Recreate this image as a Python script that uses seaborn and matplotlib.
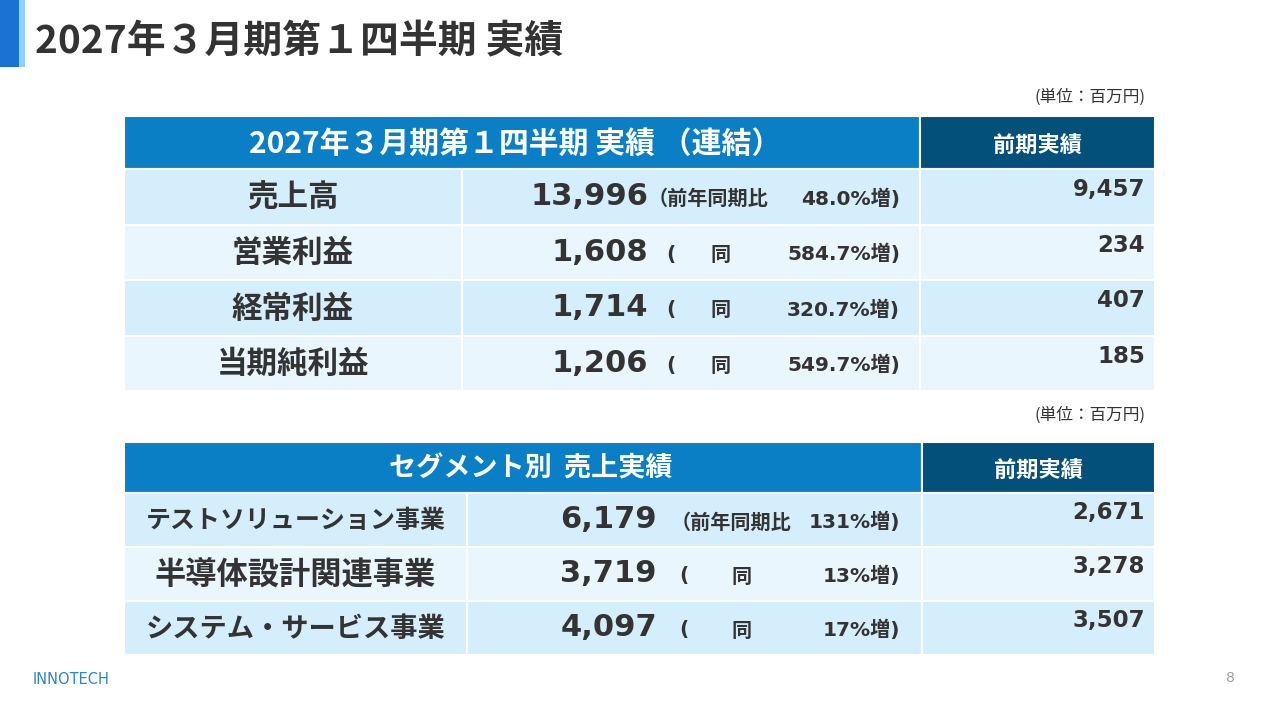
import matplotlib
matplotlib.use("Agg")
import matplotlib.pyplot as plt
import seaborn as sns

# ---------------- data ----------------
title = "2027年３月期第１四半期 実績"
unit_label = "(単位：百万円)"
prev_header = "前期実績"

pl_header = "2027年３月期第１四半期 実績 （連結）"
pl_items = ["売上高", "営業利益", "経常利益", "当期純利益"]
pl_values = [13996, 1608, 1714, 1206]
pl_growth = [48.0, 584.7, 320.7, 549.7]
pl_prev = [9457, 234, 407, 185]

seg_header = "セグメント別  売上実績"
seg_items = ["テストソリューション事業", "半導体設計関連事業", "システム・サービス事業"]
seg_values = [6179, 3719, 4097]
seg_growth = [131, 13, 17]
seg_prev = [2671, 3278, 3507]

brand = "INNOTECH"
page_no = "8"

# ---------------- style ----------------
sns.set_theme(style="white")
plt.rcParams["font.family"] = ["Noto Sans CJK JP", "DejaVu Sans"]

JP = ["Noto Sans CJK JP", "DejaVu Sans"]
NUM = ["DejaVu Sans", "Noto Sans CJK JP"]
TXT = "#333333"
HDR = "#0A7FC6"
HDR_DARK = "#03517B"
ROW_A = "#D5EEFB"
ROW_B = "#EAF6FD"

fig = plt.figure(figsize=(12.8, 7.2), dpi=100)
ax = fig.add_axes([0, 0, 1, 1])
ax.set_xlim(0, 1280)
ax.set_ylim(720, 0)
ax.axis("off")

# title bar
ax.barh([33.5], [19], left=0, height=67, color="#1C72D2", linewidth=0)
ax.barh([33.5], [6], left=19, height=67, color="#92D0F7", linewidth=0)
ax.text(35, 42, title, fontsize=28, fontweight="bold", color=TXT, family=JP,
        ha="left", va="center")


def draw_table(top, hdr_h, row_h, x0, xsep, xprev, x1, header, header_x,
               header_size, items, values, growth, prev, num_right,
               first_open_x, open_x, dou_x, pct_right, pct_fmt,
               label_sizes, unit_y):
    # unit label
    ax.text(1145, unit_y, unit_label, fontsize=12, color=TXT, family=JP,
            ha="right", va="center")
    # header
    ax.barh([top + hdr_h / 2], [xprev - x0], left=x0, height=hdr_h,
            color=HDR, edgecolor="white", linewidth=1.5)
    ax.barh([top + hdr_h / 2], [x1 - xprev], left=xprev, height=hdr_h,
            color=HDR_DARK, edgecolor="white", linewidth=1.5)
    ax.text(header_x, top + hdr_h / 2 + 1, header, fontsize=header_size,
            fontweight="bold", color="white", family=JP, ha="center",
            va="center")
    ax.text((xprev + x1) / 2, top + hdr_h / 2 + 4, prev_header, fontsize=16,
            fontweight="bold", color="white", family=JP, ha="center",
            va="center")
    n = len(items)
    centers = [top + hdr_h + row_h * (i + 0.5) for i in range(n)]
    colors = [ROW_A if i % 2 == 0 else ROW_B for i in range(n)]
    for lft, rgt in [(x0, xsep), (xsep, xprev), (xprev, x1)]:
        ax.barh(centers, [rgt - lft] * n, left=lft, height=row_h,
                color=colors, edgecolor="white", linewidth=1.5)
    for i, (c, item, v, g, p) in enumerate(zip(centers, items, values,
                                                growth, prev)):
        ax.text((x0 + xsep) / 2, c + 1, item, fontsize=label_sizes[i],
                fontweight="bold", color=TXT, family=JP, ha="center",
                va="center")
        ax.text(num_right, c, f"{v:,}", fontsize=22, fontweight="bold",
                color=TXT, family=NUM, ha="right", va="center")
        if i == 0:
            ax.text(first_open_x, c + 2, "（前年同期比", fontsize=14.5,
                    fontweight="bold", color=TXT, family=JP, ha="left",
                    va="center")
        else:
            ax.text(open_x, c + 2, "(", fontsize=14.5, fontweight="bold",
                    color=TXT, family=NUM, ha="left", va="center")
            ax.text(dou_x, c + 2, "同", fontsize=14.5, fontweight="bold",
                    color=TXT, family=JP, ha="center", va="center")
        ax.text(pct_right, c + 2, pct_fmt.format(g) + "増)",
                fontsize=14.5, fontweight="bold", color=TXT, family=NUM,
                ha="right", va="center")
        ax.text(1145, c - 7, f"{p:,}", fontsize=16.5, fontweight="bold",
                color=TXT, family=NUM, ha="right", va="center")


pl_sizes = [22] * len(pl_items)
seg_sizes = [min(22.5, 300 / (len(s) * 1.389)) for s in seg_items]

draw_table(116, 53, 55.5, 124, 462, 920, 1155, pl_header, 515, 21.5,
           pl_items, pl_values, pl_growth, pl_prev, num_right=648,
           first_open_x=648, open_x=666, dou_x=721, pct_right=900,
           pct_fmt="{:.1f}%", label_sizes=pl_sizes, unit_y=97)

draw_table(442, 51, 54, 124, 467, 922, 1155, seg_header, 531, 19.5,
           seg_items, seg_values, seg_growth, seg_prev, num_right=657,
           first_open_x=671, open_x=679, dou_x=742, pct_right=900,
           pct_fmt="{}%", label_sizes=seg_sizes, unit_y=415)

# footer
ax.text(33, 680, brand, fontsize=10.5, color="#2A87C8", family=["DejaVu Sans"],
        ha="left", va="center")
ax.text(1235, 678, page_no, fontsize=10, color="#A0A0A0",
        family=["DejaVu Sans"], ha="right", va="center")

fig.savefig("out.png", dpi=100)
